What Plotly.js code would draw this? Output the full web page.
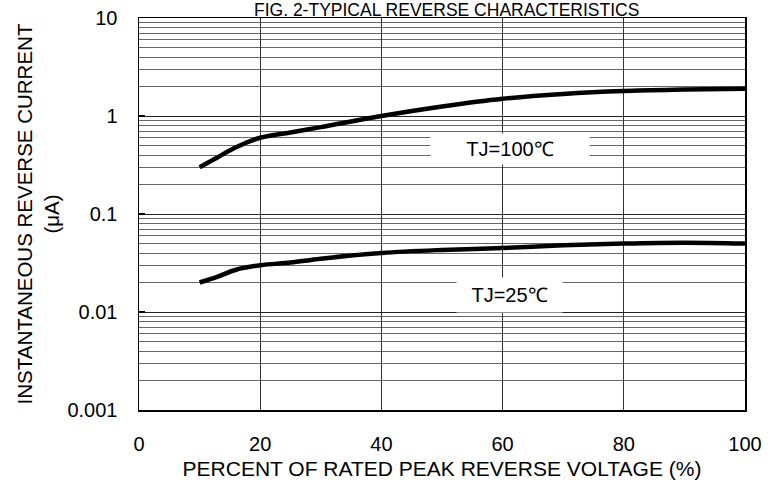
<!DOCTYPE html>
<html><head><meta charset="utf-8">
<script src="https://cdn.plot.ly/plotly-3.0.1.min.js"></script>
<style>body{margin:0;background:#fff}#c{width:781px;height:487px}</style>
</head><body><div id="c"></div>
<script>
const xVals = [10, 13, 16, 20, 25, 30, 40, 50, 60, 70, 80, 90, 100];
const i100 = [0.30, 0.38, 0.48, 0.60, 0.68, 0.77, 1.00, 1.25, 1.50, 1.68, 1.80, 1.86, 1.90];
const i25  = [0.020, 0.023, 0.027, 0.030, 0.032, 0.035, 0.040, 0.043, 0.045, 0.048, 0.050, 0.051, 0.050];
const xTicks = [0, 20, 40, 60, 80, 100];
const yTicks = [0.001, 0.01, 0.1, 1, 10];
const yTickText = ['0.001', '0.01', '0.1', '1', '10'];
const font = 'Liberation Sans, Arial, sans-serif';
const traces = [
  {x: xVals, y: i100, mode: 'lines', line: {color: '#000', width: 4.5, shape: 'spline'}, hoverinfo: 'skip'},
  {x: xVals, y: i25, mode: 'lines', line: {color: '#000', width: 4.5, shape: 'spline'}, hoverinfo: 'skip'}
];
const layout = {
  width: 781, height: 487,
  margin: {l: 139, r: 36, t: 18, b: 77},
  showlegend: false,
  paper_bgcolor: '#fff', plot_bgcolor: '#fff',
  font: {family: font, size: 20, color: '#000'},
  xaxis: {
    range: [0, 100], tickvals: xTicks, ticks: '', showline: true, mirror: true,
    linecolor: '#000', linewidth: 1.5, showgrid: true, gridcolor: '#333', gridwidth: 1,
    zeroline: false, tickfont: {size: 20}, ticklabelstandoff: 15,
    title: {text: 'PERCENT OF RATED PEAK REVERSE VOLTAGE (%)', font: {size: 21}, standoff: 8}
  },
  yaxis: {
    type: 'log', range: [-3, 1], tickvals: yTicks, ticktext: yTickText,
    ticks: 'inside', ticklen: 6, tickwidth: 2, tickcolor: '#000',
    showline: true, mirror: true, linecolor: '#000', linewidth: 1.5,
    showgrid: true, gridcolor: '#222', gridwidth: 1, zeroline: false,
    tickfont: {size: 20}, ticklabelstandoff: 16,
    minor: {showgrid: true, dtick: 'D1', gridcolor: '#666', gridwidth: 1, ticks: ''},
    title: {text: 'INSTANTANEOUS REVERSE CURRENT<br>(μA)', font: {size: 20.5}, standoff: 2}
  },
  annotations: [
    {text: 'FIG. 2-TYPICAL REVERSE CHARACTERISTICS', xref: 'paper', yref: 'paper', x: 0.507, y: 1.0, yshift: 8, xanchor: 'center', yanchor: 'middle', showarrow: false, font: {size: 17.5}},
    {text: 'TJ=100℃', xref: 'x', yref: 'y', x: 61.2, y: -0.337, showarrow: false, bgcolor: '#fff', borderpad: 5, width: 148, height: 20, font: {size: 20}},
    {text: 'TJ=25℃', xref: 'x', yref: 'y', x: 61.2, y: -1.827, showarrow: false, bgcolor: '#fff', borderpad: 5, width: 95, height: 24, font: {size: 20}}
  ]
};
Plotly.newPlot('c', traces, layout, {staticPlot: true});
</script></body></html>
